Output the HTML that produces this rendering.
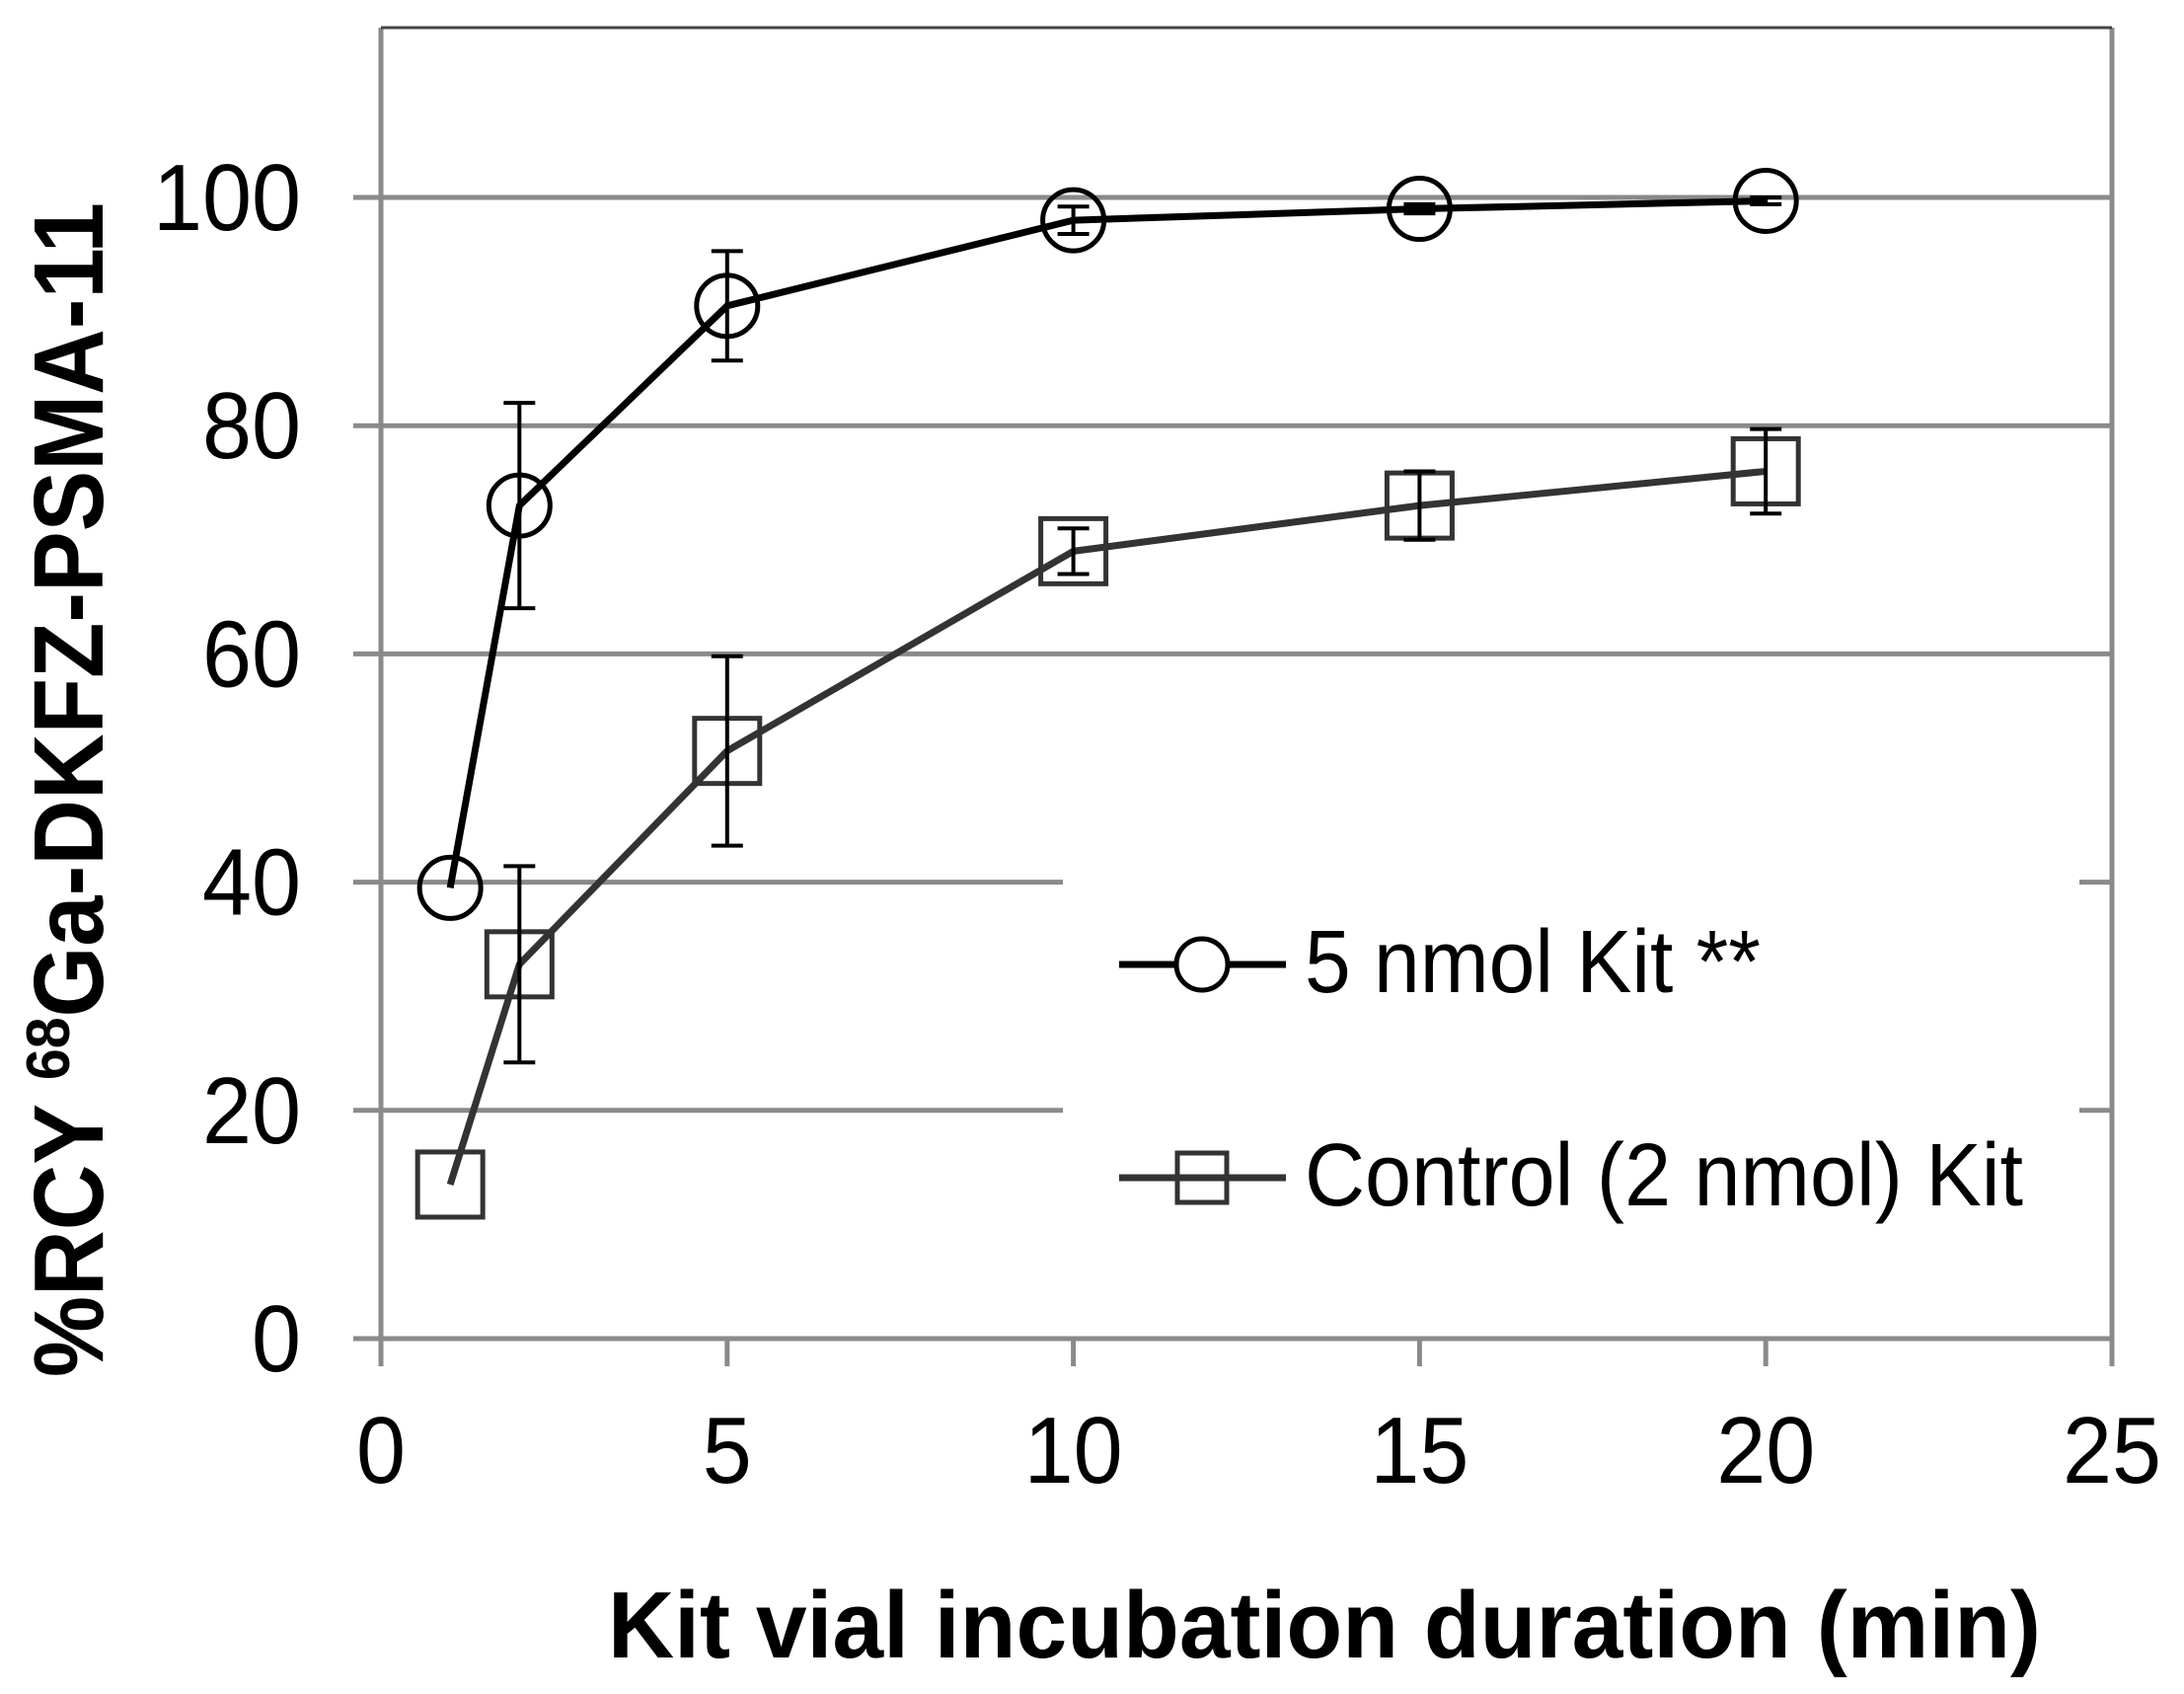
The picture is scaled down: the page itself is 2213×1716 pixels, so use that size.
<!DOCTYPE html>
<html><head><meta charset="utf-8"><style>
html,body{margin:0;padding:0;background:#fff;}
svg text{font-family:"Liberation Sans",Arial,sans-serif;}
</style></head><body>
<svg id="chart" width="2213" height="1711" viewBox="0 0 2213 1711" xmlns="http://www.w3.org/2000/svg">
<g id="grid"></g>
<g id="axes"></g>
<g id="series"></g>
<g id="legend">
  <line x1="1134" y1="977" x2="1303" y2="977" stroke="#000" stroke-width="7"/>
  <circle cx="1218" cy="977" r="26" fill="#fff" stroke="#000" stroke-width="5"/>
  <text x="1322" y="1005" font-size="90" textLength="462" lengthAdjust="spacingAndGlyphs">5 nmol Kit **</text>
  <line x1="1134" y1="1193" x2="1303" y2="1193" stroke="#333" stroke-width="7"/>
  <rect x="1193" y="1168" width="50" height="50" fill="none" stroke="#333" stroke-width="5"/>
  <text x="1322" y="1221" font-size="90" textLength="728" lengthAdjust="spacingAndGlyphs">Control (2 nmol) Kit</text>
</g>
<text transform="translate(104,800) rotate(-90)" text-anchor="middle" font-size="100" font-weight="bold" textLength="1190" lengthAdjust="spacingAndGlyphs">%RCY <tspan font-size="62" dy="-34">68</tspan><tspan dy="34">Ga-DKFZ-PSMA-11</tspan></text>
<text x="1342" y="1679" text-anchor="middle" font-size="96" font-weight="bold" textLength="1452" lengthAdjust="spacingAndGlyphs">Kit vial incubation duration (min)</text>
</svg>
<script>
const xCats=[1,2,5,10,15,20];
const kit5=[39.5,73,90.5,98,99,99.7];
const kit5Err=[0,9,4.8,1.2,0.4,0.3];
const ctrl=[13.5,32.8,51.5,69,73,76];
const ctrlErr=[0,8.6,8.3,2,3,3.7];
const xTicks=[0,5,10,15,20,25];
const yTicks=[0,20,40,60,80,100];
const NS="http://www.w3.org/2000/svg";
const X0=386,X1=2140,Y0=1356,Y100=200,TOP=28;
const xs=v=>X0+(X1-X0)*v/25;
const ys=v=>Y0-(Y0-Y100)*v/100;
function mk(tag,attrs,parent){const e=document.createElementNS(NS,tag);for(const k in attrs)e.setAttribute(k,attrs[k]);parent.appendChild(e);return e;}
const grid=document.getElementById('grid'),axes=document.getElementById('axes'),ser=document.getElementById('series');
yTicks.forEach(t=>{
  const y=ys(t);
  if(t>0){
    if(t<=40){
      const g1=mk('line',{x1:X0,y1:y,x2:1077,y2:y,stroke:'#8a8a8a','stroke-width':5},grid);
      
      
      const g2=mk('line',{x1:2107,y1:y,x2:X1,y2:y,stroke:'#8a8a8a','stroke-width':5},grid);
      
      
    } else {
      const g=mk('line',{x1:X0,y1:y,x2:X1,y2:y,stroke:'#8a8a8a','stroke-width':5},grid);
      
      
    }
  }
  const tk=mk('line',{x1:358,y1:y,x2:X0,y2:y,stroke:'#8a8a8a','stroke-width':5},axes);
  
  
  const lb=mk('text',{x:305,y:y+33,'text-anchor':'end','font-size':96,textLength:String(t).length*50,lengthAdjust:'spacingAndGlyphs'},axes);
  lb.textContent=t;
  
  
});
const ax=mk('path',{d:`M${X0},${TOP}V${Y0}H${X1}V${TOP}`,fill:'none',stroke:'#8a8a8a','stroke-width':5},axes);


const topL=mk('line',{x1:X0,y1:TOP,x2:X1,y2:TOP,stroke:'#444','stroke-width':3},axes);


xTicks.forEach(t=>{
  const x=xs(t);
  const tk=mk('line',{x1:x,y1:Y0,x2:x,y2:Y0+28,stroke:'#8a8a8a','stroke-width':5},axes);
  
  
  const lb=mk('text',{x:x,y:1502,'text-anchor':'middle','font-size':96,textLength:String(t).length*50,lengthAdjust:'spacingAndGlyphs'},axes);
  lb.textContent=t;
  
  
});
function drawSeries(vals,errs,color,shape,name){
  const pl=mk('polyline',{points:xCats.map((c,i)=>xs(c)+','+ys(vals[i])).join(' '),fill:'none',stroke:color,'stroke-width':7,'stroke-linejoin':'round'},ser);
  
  
  xCats.forEach((c,i)=>{
    const x=xs(c),y=ys(vals[i]);
    if(shape==='circle'){
      const m=mk('circle',{cx:x,cy:y,r:31,fill:'none',stroke:'#000','stroke-width':5},ser);
      
      
    } else {
      const m=mk('rect',{x:x-33,y:y-33,width:66,height:66,fill:'none',stroke:'#333','stroke-width':5},ser);
      
      
    }
    if(errs[i]>0){
      const yl=ys(vals[i]-errs[i]),yh=ys(vals[i]+errs[i]);
      const e=mk('path',{d:`M${x},${yl}V${yh}M${x-16},${yl}H${x+16}M${x-16},${yh}H${x+16}`,fill:'none',stroke:'#000','stroke-width':4},ser);
      
      
    }
  });
}
drawSeries(ctrl,ctrlErr,'#333','square','control-kit');
drawSeries(kit5,kit5Err,'#000','circle','5nmol-kit');
</script>
</body></html>
